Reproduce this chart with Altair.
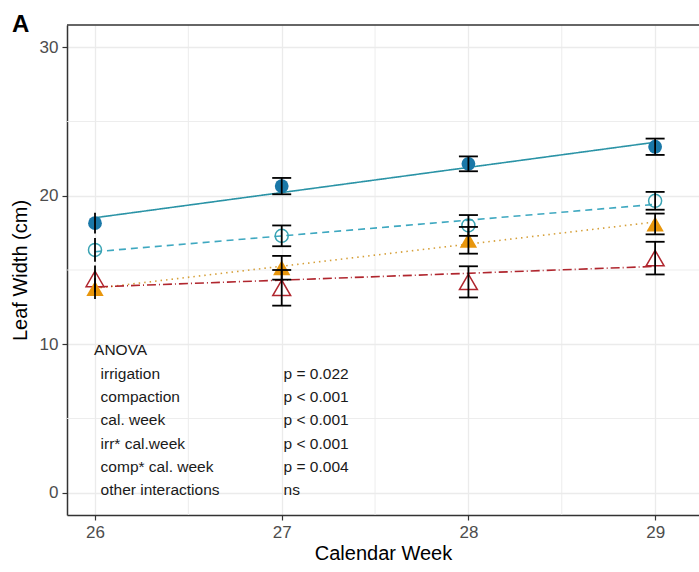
import altair as alt
import pandas as pd

# ---------------- data ----------------
weeks = [26, 27, 28, 29]
treatments = ["irrigated / uncompacted", "irrigated / compacted",
              "rain-fed / uncompacted", "rain-fed / compacted"]
means = [
    [18.15, 20.65, 22.15, 23.30],   # filled circle, solid
    [16.35, 17.30, 18.00, 19.66],   # open circle, dashed
    [13.75, 15.15, 17.00, 18.10],   # filled triangle, dotted
    [14.40, 13.80, 14.20, 15.80],   # open triangle, dot-dash
]
ses = [
    [0.70, 0.55, 0.50, 0.55],
    [0.80, 0.70, 0.70, 0.60],
    [0.70, 0.80, 0.90, 0.70],
    [0.90, 1.20, 1.05, 1.10],
]
point_colors = ["#1a78a8", "#3aa3b3", "#e8960c", "#b0262e"]
line_colors = ["#2a93a6", "#3ea8c0", "#d6a03a", "#b0262e"]
shapes = ["circle", "circle", "triangle-up", "triangle-up"]
sizes = [190, 170, 300, 320]
filled = [True, False, True, False]
dashes = [[1, 0], [7, 5], [1.5, 4], [1, 3, 9, 3]]
draw_order = [3, 1, 2, 0]   # open triangle, open circle, filled triangle, filled circle

anova_terms = ["irrigation", "compaction", "cal. week", "irr* cal.week",
               "comp* cal. week", "other interactions"]
anova_p = ["p = 0.022", "p < 0.001", "p < 0.001", "p < 0.001", "p = 0.004", "ns"]
anova_y = [8.01, 6.45, 4.88, 3.30, 1.74, 0.18]
anova_head_y = 9.62

minor_x = [26.5, 27.5, 28.5]
minor_y = [5, 15, 25]
major_y = [0, 10, 20, 30]
panel_tag = ["A"]

# ---------------- tables ----------------
rows = []
for t, m, s in zip(treatments, means, ses):
    for w, mi, si in zip(weeks, m, s):
        rows.append({"treatment": t, "week": w, "mean": mi,
                     "lo": mi - si, "hi": mi + si})
df = pd.DataFrame(rows)

anova_df = pd.DataFrame({"term": anova_terms, "p": anova_p, "y": anova_y,
                         "xt": [26.03] * len(anova_terms), "xp": [27.01] * len(anova_terms)})
head_df = pd.DataFrame({"label": ["ANOVA"], "x": [25.995], "y": [anova_head_y]})
tag_df = pd.DataFrame({"tag": panel_tag})

FONT = "Liberation Sans"
W, H = 632, 490
xscale = alt.Scale(domain=[25.85, 29.235], nice=False, zero=False)
yscale = alt.Scale(domain=[-1.5, 31.5], nice=False, zero=False)

common_axis = dict(labelFontSize=17, labelColor="#4d4d4d", labelFont=FONT,
                   tickColor="#333333", tickSize=5, tickWidth=1.2, labelPadding=4,
                   domain=True, domainColor="#333333", domainWidth=1.5,
                   grid=True, gridColor="#ebebeb", gridWidth=1.3,
                   titleFont=FONT, titleFontSize=20, titleFontWeight="normal",
                   titleColor="#000000")
xaxis = alt.Axis(values=weeks, format="d", title="Calendar Week", titlePadding=3,
                 **common_axis)
yaxis = alt.Axis(values=major_y, format="d", title="Leaf Width (cm)", titlePadding=9,
                 **common_axis)


def X(field):
    return alt.X(field, scale=xscale, axis=xaxis, title="Calendar Week")


def Y(field):
    return alt.Y(field, scale=yscale, axis=yaxis, title="Leaf Width (cm)")


base = alt.Chart(df)

grid_x = alt.Chart(pd.DataFrame({"v": minor_x})).mark_rule(
    color="#ebebeb", strokeWidth=0.9).encode(x=X("v:Q"))
grid_y = alt.Chart(pd.DataFrame({"v": minor_y})).mark_rule(
    color="#ebebeb", strokeWidth=0.9).encode(y=Y("v:Q"))

# top panel border (the right side is cut off in the reference)
top_border = alt.Chart(tag_df).mark_rule(color="#333333", strokeWidth=1.5).encode(
    x=alt.value(0), x2=alt.value(W), y=alt.value(0))

lines = base.transform_regression(
    "week", "mean", groupby=["treatment"]
).mark_line(strokeWidth=1.6).encode(
    x=X("week:Q"),
    y=Y("mean:Q"),
    stroke=alt.Stroke("treatment:N", scale=alt.Scale(domain=treatments, range=line_colors),
                      legend=None),
    strokeDash=alt.StrokeDash("treatment:N",
                              scale=alt.Scale(domain=treatments, range=dashes),
                              legend=None),
)

point_layers = []
for i in draw_order:
    if filled[i]:
        mk = base.mark_point(filled=True, opacity=1, shape=shapes[i], size=sizes[i],
                             color=point_colors[i])
    else:
        mk = base.mark_point(filled=False, opacity=1, shape=shapes[i], size=sizes[i],
                             color=point_colors[i], strokeWidth=1.5)
    point_layers.append(
        mk.transform_filter(alt.datum.treatment == treatments[i]).encode(
            x=X("week:Q"), y=Y("mean:Q"))
    )

bars = base.mark_rule(color="black", strokeWidth=1.8).encode(
    x=X("week:Q"),
    y=Y("lo:Q"),
    y2="hi:Q",
)
caps = base.transform_filter(alt.datum.week > 26).transform_fold(
    ["lo", "hi"], as_=["end", "val"]
).mark_tick(color="black", orient="horizontal", size=19, thickness=1.8, opacity=1).encode(
    x=X("week:Q"),
    y=Y("val:Q"),
)

txt_style = dict(align="left", baseline="middle", fontSize=15.5, font=FONT, color="#1a1a1a")
head = alt.Chart(head_df).mark_text(**txt_style).encode(
    x=X("x:Q"), y=Y("y:Q"), text="label:N")
terms = alt.Chart(anova_df).mark_text(**txt_style).encode(
    x=X("xt:Q"), y=Y("y:Q"), text="term:N")
pvals = alt.Chart(anova_df).mark_text(**txt_style).encode(
    x=X("xp:Q"), y=Y("y:Q"), text="p:N")

tag = alt.Chart(tag_df).mark_text(
    align="left", baseline="alphabetic", fontSize=24, fontWeight="bold",
    font=FONT, color="#000000"
).encode(x=alt.value(-55), y=alt.value(7), text="tag:N")

chart = alt.layer(
    grid_x, grid_y, top_border, lines, *point_layers, bars, caps,
    head, terms, pvals, tag
).properties(
    width=W, height=H,
    background="white",
    autosize=alt.AutoSizeParams(type="none"),
    padding={"left": 67, "top": 25, "right": 0, "bottom": 57},
).configure_view(strokeWidth=0)

chart.save("out.html", embed_options={"renderer": "svg", "actions": False})
